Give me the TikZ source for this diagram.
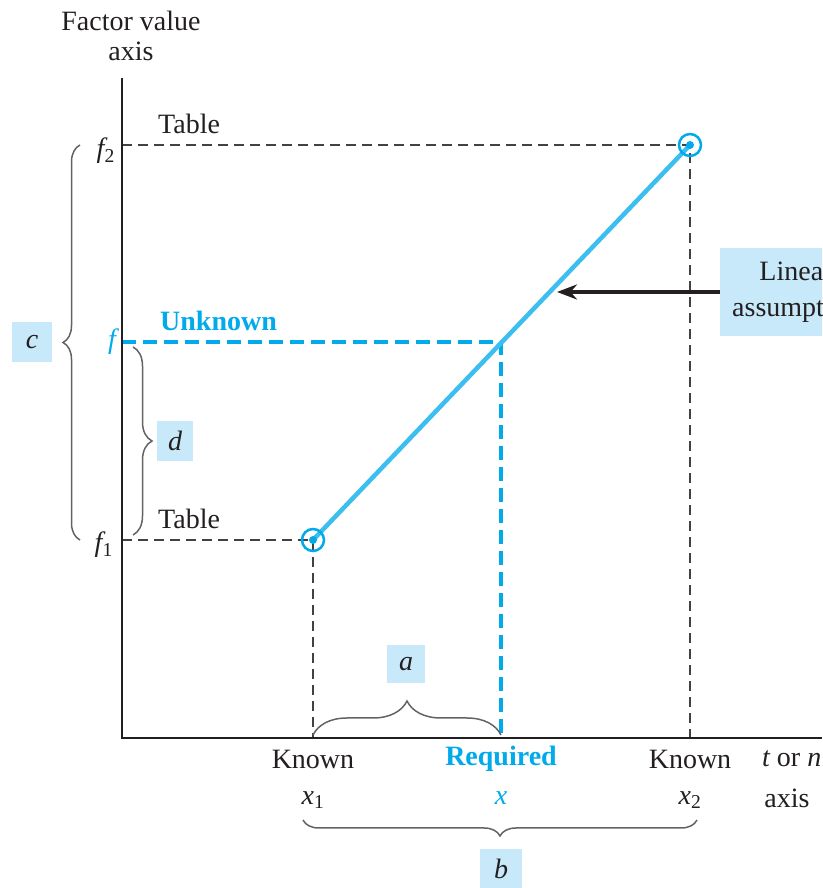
\documentclass[tikz,border=0pt]{standalone}
\usepackage{fontspec}
\setmainfont{Liberation Serif}
\usetikzlibrary{decorations.pathreplacing,arrows.meta}
\definecolor{ink}{RGB}{35,31,32}
\definecolor{cy}{RGB}{0,170,235}
\definecolor{cyl}{RGB}{60,190,240}
\definecolor{boxbl}{RGB}{200,233,250}
\begin{document}
\begin{tikzpicture}[x=1pt,y=1pt,
 lab/.style={font=\fontsize{28}{30}\selectfont, text=ink, inner sep=0pt},
 bluelab/.style={font=\fontsize{28}{30}\selectfont\bfseries, text=cy, inner sep=0pt},
 tag/.style={fill=boxbl, text=ink, inner sep=0pt, minimum width=40pt, minimum height=40pt, font=\fontsize{28}{30}\selectfont\itshape},
 axisline/.style={draw=ink, line width=1.8pt},
 guide/.style={draw=ink!85, line width=1.8pt, dash pattern=on 10pt off 6pt},
 blueguide/.style={draw=cy, line width=3.8pt, dash pattern=on 14pt off 7pt},
 bracestyle/.style={draw=ink!70, line width=1.5pt, decorate, decoration={brace, amplitude=#1}},
 ring/.style={circle, draw=cy, line width=2.5pt, minimum size=22pt, inner sep=0pt},
]
\useasboundingbox (0,0) rectangle (822,888);
\clip (0,0) rectangle (822,888);

% key points
\coordinate (O) at (122,150);
\coordinate (Ytop) at (122,810);
\coordinate (Xend) at (822,150);
\coordinate (F2) at (122,743);
\coordinate (F) at (122,546);
\coordinate (F1) at (122,348);
\coordinate (P1) at (313,348);
\coordinate (P2) at (690,743);
\coordinate (Q) at (501,546);
\coordinate (X1) at (313,150);
\coordinate (X) at (501,150);
\coordinate (X2) at (690,150);
\coordinate (ArrTip) at (557,596);

% guides
\draw[guide] (F2) -- (P2) -- (X2);
\draw[guide] (F1) -- (P1) -- (X1);
\draw[blueguide] (F) -- (Q) -- (X);

% axes
\draw[axisline] (Ytop) -- (O) -- (Xend);

% linear line
\draw[cyl, line width=4.5pt] (P1) -- (P2);
\node[ring] (R1) at (P1) {};
\node[ring] (R2) at (P2) {};
\fill[cy] (P1) circle (4);
\fill[cy] (P2) circle (4);

% linear assumption
\node[tag, font=\fontsize{28}{36}\selectfont, align=center, minimum width=152pt, minimum height=88pt] (lin) at (796,596) {Linear\\assumption};
\draw[ink, line width=3.5pt, -{Stealth[length=20pt,width=15pt]}] (lin.west) -- (ArrTip);

% texts
\node[lab, align=center] (fva) at (131,852) {Factor value\\axis};
\node[lab, anchor=west] (t2) at (158,764) {Table};
\node[lab, anchor=west] (t1) at (158,369) {Table};
\node[bluelab, anchor=west] (unk) at (160,567) {Unknown};
\node[lab, anchor=east] (lf2) at (115,737) {\itshape f\textsubscript{\upshape 2}};
\node[lab, anchor=east, text=cy] (lf) at (116,546) {\itshape f};
\node[lab, anchor=east] (lf1) at (113,343) {\itshape f\textsubscript{\upshape 1}};

\node[lab] (k1) at (313,129) {Known};
\node[lab] (lx1) at (313,88) {\itshape x\textsubscript{\upshape 1}};
\node[bluelab] (req) at (501,129) {Required};
\node[lab, text=cy] (lx) at (501,90) {\itshape x};
\node[lab] (k2) at (690,129) {Known};
\node[lab] (lx2) at (690,88) {\itshape x\textsubscript{\upshape 2}};
\node[lab, anchor=west] (tn) at (762,129) {\itshape t\upshape{} or \itshape n};
\node[lab] (ax) at (787,90) {axis};

% braces
\draw[bracestyle=17] (80,348) -- (80,743);
\draw[bracestyle=19] (133,541) -- (133,353);
\draw[bracestyle=34] (313,153) -- (501,153);
\draw[bracestyle=16] (697,68) -- (303,68);

% tags
\node[tag] (tc) at (32,546) {c};
\node[tag, minimum width=36pt] (td) at (175,447) {d};
\node[tag, minimum width=38pt, minimum height=38pt] (ta) at (406,224) {a};
\node[tag, minimum width=42pt] (tb) at (501,19) {b};
\end{tikzpicture}
\end{document}
